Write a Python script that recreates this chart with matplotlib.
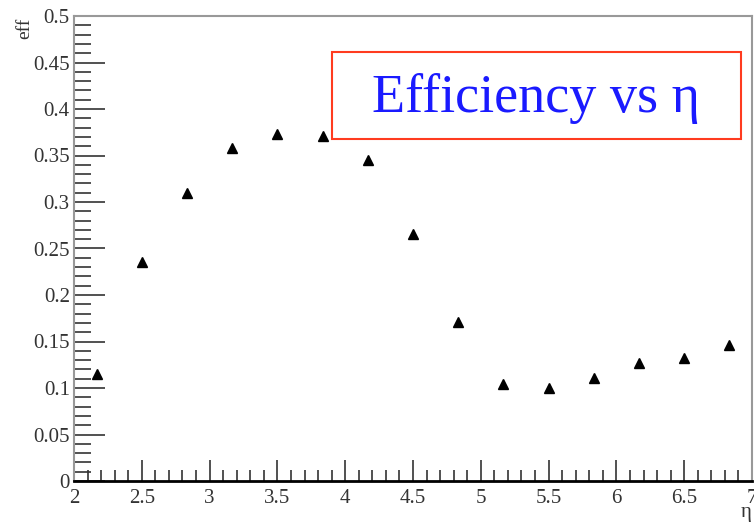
import matplotlib
matplotlib.use("Agg")
import matplotlib.pyplot as plt
from matplotlib.ticker import MultipleLocator
from matplotlib.patches import Rectangle

eta = [2.167, 2.5, 2.833, 3.167, 3.5, 3.833, 4.167, 4.5, 4.833,
       5.167, 5.5, 5.833, 6.167, 6.5, 6.833]
eff = [0.115, 0.235, 0.310, 0.358, 0.373, 0.371, 0.345, 0.266, 0.171,
       0.104, 0.100, 0.111, 0.127, 0.132, 0.146]
title_text = "Efficiency vs \u03b7"
x_label = "\u03b7"
y_label = "eff"

plt.rcParams['font.family'] = ['Liberation Serif', 'DejaVu Serif']

fig = plt.figure(figsize=(7.54, 5.25), dpi=100)
ax = fig.add_axes([74/754, 1-481/525, (752-74)/754, (481-16)/525])

ax.plot(eta, eff, linestyle='none', marker='^', color='black', markersize=7)

ax.set_xlim(2, 7)
ax.set_ylim(0, 0.5)
ax.xaxis.set_major_locator(MultipleLocator(0.5))
ax.xaxis.set_minor_locator(MultipleLocator(0.1))
ax.yaxis.set_major_locator(MultipleLocator(0.05))
ax.yaxis.set_minor_locator(MultipleLocator(0.01))

def fmt(v, pos):
    s = ('%.2f' % v).rstrip('0').rstrip('.')
    return s
ax.xaxis.set_major_formatter(plt.FuncFormatter(fmt))
ax.yaxis.set_major_formatter(plt.FuncFormatter(fmt))

ax.tick_params(axis='both', which='both', direction='in', colors='#333333',
               labelcolor='#333333', labelsize=15, width=1.2)
ax.tick_params(axis='x', which='major', length=15, pad=6)
ax.tick_params(axis='x', which='minor', length=8)
ax.tick_params(axis='y', which='major', length=22, pad=3)
ax.tick_params(axis='y', which='minor', length=12)

for s in ['left', 'top', 'right']:
    ax.spines[s].set_color('#999999')
    ax.spines[s].set_linewidth(1.5)
ax.spines['bottom'].set_color('black')
ax.spines['bottom'].set_linewidth(2)

fig.text(25/754, 1-18/525, y_label, rotation=90, ha='center', va='top',
         fontsize=14, color='#333333')
fig.text(752/754, 1-513/525, x_label, ha='right', va='center',
         fontsize=15, color='#333333')

# title box
fig.patches.append(Rectangle((332/754, 1-139/525), (741-332)/754, (139-52)/525,
                             transform=fig.transFigure, fill=False,
                             edgecolor='#ff3b1f', linewidth=1.5))
fig.text(536/754, 1-98/525, title_text, ha='center', va='center',
         fontsize=39, color='#1a1aff')

fig.savefig('out.png', dpi=100)
